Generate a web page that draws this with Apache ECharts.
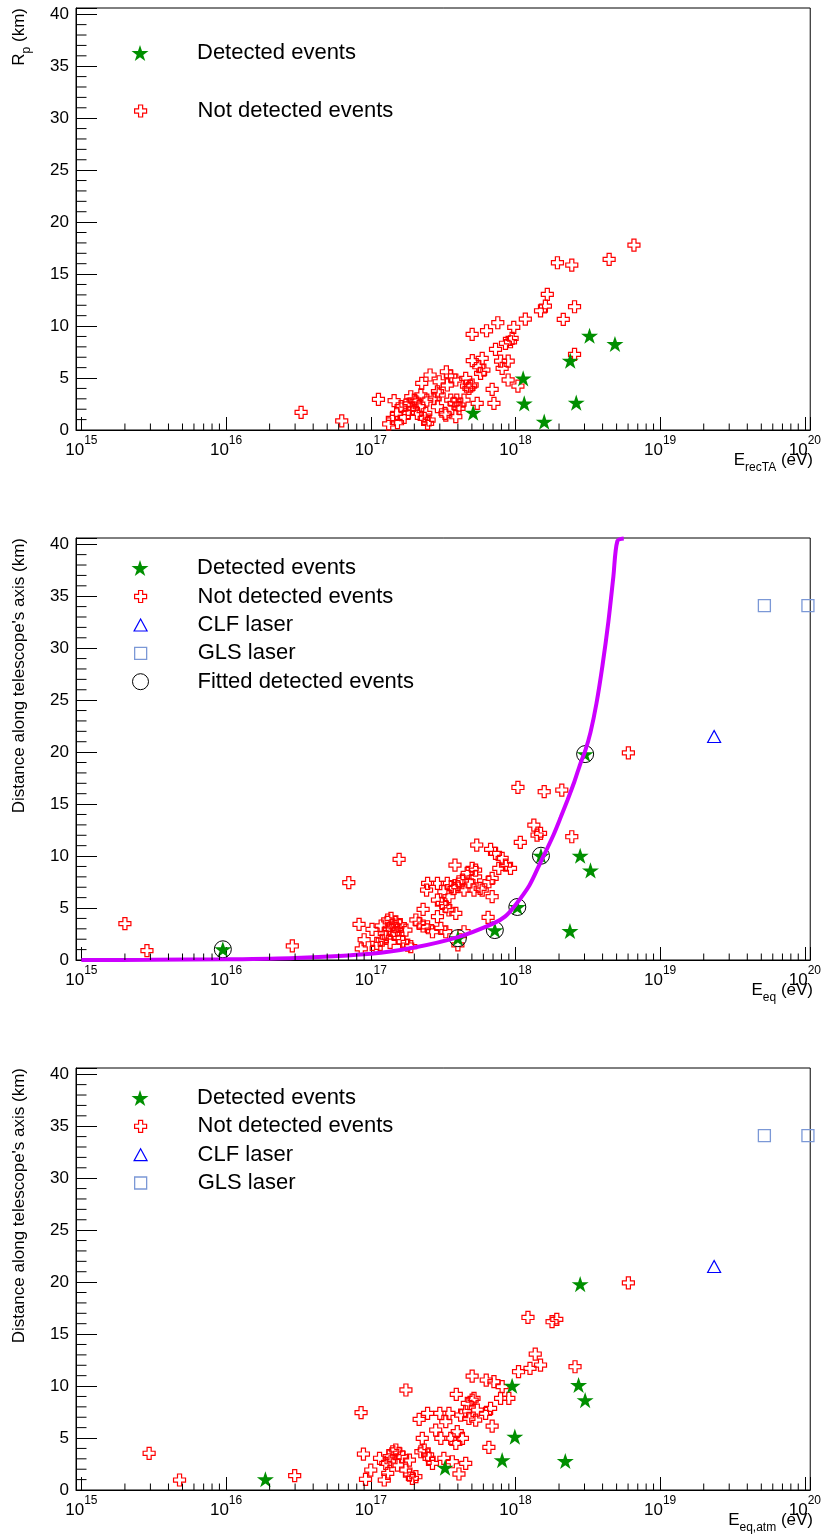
<!DOCTYPE html>
<html><head><meta charset="utf-8">
<script src="https://cdn.jsdelivr.net/npm/echarts@6/dist/echarts.min.js"></script>
<style>html,body{margin:0;padding:0;background:#fff}#c{width:824px;height:1537px}</style>
</head><body><div id="c"></div>
<script>
// ---------------- data ----------------
const legendNames = ['Detected events', 'Not detected events', 'CLF laser', 'GLS laser', 'Fitted detected events'];
const xTitles = [['E', 'recTA', ' (eV)'], ['E', 'eq', ' (eV)'], ['E', 'eq,atm', ' (eV)']];
const yTitles = [['R', 'p', ' (km)'], ["Distance along telescope's axis (km)", '', ''], ["Distance along telescope's axis (km)", '', '']];
const decadeExponents = [15, 16, 17, 18, 19];
const minorMultipliers = [2, 3, 4, 5, 6, 7, 8, 9];
const yMinorTicks = [1,2,3,4,6,7,8,9,11,12,13,14,16,17,18,19,21,22,23,24,26,27,28,29,31,32,33,34,36,37,38,39];

// Panel 1: E_recTA vs R_p
const p1Detected = [[5.1e17,1.67],[1.13e18,4.97],[1.15e18,2.56],[1.58e18,0.8],[2.39e18,6.67],[2.63e18,2.63],[3.25e18,9.07],[4.87e18,8.27]];
const p1NotDetected = [[3.3e16,1.7],[6.3e16,0.87],[1.13e17,2.95],[1.45e17,2.82],[1.51e17,1.6],[1.33e17,0.58],[1.53e17,0.7],[1.7e17,1.22],[1.84e17,2.5],[1.94e17,2.08],[2.05e17,2.72],[1.82e17,1.67],[2.1e17,1.6],[2.22e17,3.37],[2.25e17,4.49],[2.57e17,5.29],[2.44e17,2.88],[2.4e17,1.6],[2.53e17,0.96],[2.74e17,3.05],[2.97e17,3.37],[2.89e17,2.24],[2.97e17,4.64],[3.33e17,5.6],[3.57e17,5.19],[3.38e17,4.33],[3.87e17,4.81],[4.53e17,4.97],[4.9e17,4.23],[4.77e17,4.0],[3.93e17,2.88],[4.07e17,2.4],[3.76e17,2.56],[3.3e17,1.44],[3.87e17,1.28],[5.44e17,2.56],[5.03e17,6.67],[5.89e17,6.89],[5.58e17,6.09],[6.05e17,5.77],[5.74e17,5.45],[5.02e17,9.2],[6.31e17,9.55],[7.55e17,10.32],[9.73e17,9.88],[1.17e18,10.67],[7.28e17,7.76],[8.53e17,8.34],[9.48e17,8.82],[9.24e17,8.49],[7.89e17,6.63],[8.91e17,6.63],[8.09e17,5.93],[8.9e17,4.81],[1.04e18,4.23],[6.9e17,3.91],[7.1e17,2.56],[1.49e18,11.47],[1.61e18,11.92],[1.66e18,13.05],[1.95e18,16.09],[2.45e18,15.87],[4.44e18,16.41],[6.59e18,17.79],[2.14e18,10.64],[2.56e18,11.86],[2.56e18,7.28],[1.75e17,2.4],[2.0e17,2.88],[1.89e17,3.2],[2.16e17,2.24],[2.34e17,1.12],[2.47e17,0.64],[1.62e17,2.24],[1.41e17,1.12],[2.89e17,3.68],[3.26e17,1.6],[4.07e17,2.08],[4.41e17,2.88],[3.57e17,2.88],[4.59e17,4.23],[5.02e17,4.33]];

// Panel 2: E_eq vs distance
const p2Detected = [[9.5e15,1.03],[4.0e17,2.1],[7.2e17,2.88],[1.03e18,5.1],[1.5e18,10.03],[3.03e18,19.81],[2.8e18,10.03],[3.3e18,8.62],[2.38e18,2.79]];
const p2Fitted = [[9.5e15,1.03],[4.0e17,2.1],[7.2e17,2.88],[1.03e18,5.1],[1.5e18,10.03],[3.03e18,19.81]];
const p2NotDetected = [[2.0e15,3.5],[2.84e15,0.9],[2.87e16,1.35],[7.05e16,7.44],[1.57e17,9.68],[8.3e16,3.43],[9.0e16,1.95],[8.6e16,1.07],[1.02e17,2.95],[1.1e17,1.6],[1.09e17,1.12],[1.18e17,3.27],[1.24e17,2.56],[1.31e17,3.85],[1.38e17,4.0],[1.34e17,3.05],[1.42e17,3.37],[1.49e17,3.68],[1.45e17,2.56],[1.53e17,2.88],[1.57e17,2.08],[1.66e17,1.76],[1.75e17,2.88],[1.8e17,1.44],[1.89e17,1.28],[1.28e17,2.2],[1.47e17,3.2],[1.6e17,3.4],[1.36e17,1.7],[1.2e17,1.9],[2.05e17,3.85],[2.16e17,3.53],[2.3e17,3.27],[2.47e17,3.2],[2.3e17,4.87],[2.47e17,7.37],[2.43e17,6.73],[2.89e17,5.77],[3.12e17,5.45],[3.3e17,5.13],[3.47e17,4.81],[3.87e17,4.49],[2.89e17,4.17],[2.89e17,7.37],[3.38e17,7.37],[3.2e17,6.57],[3.47e17,6.09],[3.82e17,9.13],[3.76e17,6.89],[4.3e17,7.69],[4.64e17,8.33],[5.02e17,8.82],[5.3e17,8.65],[5.3e17,8.0],[4.77e17,7.53],[5.17e17,6.73],[5.7e17,6.9],[4.0e17,7.05],[3.6e17,7.05],[4.41e17,6.73],[4.07e17,7.53],[5.89e17,6.73],[6.9e17,6.09],[6.55e17,7.53],[6.9e17,7.85],[5.4e17,11.06],[6.73e17,10.64],[7.28e17,10.26],[8.09e17,9.78],[8.53e17,9.13],[7.67e17,8.82],[9.24e17,8.82],[1.08e18,11.32],[1.34e18,12.98],[1.41e18,12.02],[1.49e18,12.18],[3.05e17,3.05],[3.3e17,2.72],[2.67e17,2.72],[4.41e17,2.72],[4.0e17,1.45],[6.47e17,4.1],[1.04e18,16.6],[1.58e18,16.19],[2.09e18,16.35],[2.45e18,11.86],[6.03e18,19.93]];
const pClf = [[2.36e19,21.5]];
const pGls = [[5.25e19,34.1],[1.05e20,34.1]];
const fitE = [1e15,3e15,1e16,3e16,1e17,2e17,4e17,7e17,8.5e17,1e18,1.25e18,1.5e18,1.64e18,1.84e18,2.05e18,2.29e18,2.56e18,2.81e18,3.03e18,3.3e18,3.63e18,3.99e18,4.39e18,4.75e18,5.06e18,5.6e18];
const fitD = [0.0,0.02,0.07,0.2,0.6,1.2,2.2,3.5,4.2,5.3,7.2,9.5,10.6,12.1,13.7,15.4,17.2,18.9,20.1,21.9,24.7,28.3,32.6,36.9,40.3,40.55];

// Panel 3: E_eq,atm vs distance
const p3Detected = [[1.87e16,1.03],[3.26e17,2.15],[8.09e17,2.88],[9.48e17,10.03],[9.9e17,5.13],[2.21e18,2.79],[2.73e18,10.1],[2.8e18,19.81],[3.03e18,8.65]];
const p3NotDetected = [[2.94e15,3.53],[4.77e15,0.96],[2.98e16,1.38],[8.57e16,7.44],[8.9e16,3.46],[9.2e16,1.03],[1.0e17,1.92],[1.24e17,0.96],[1.15e17,3.05],[1.75e17,9.62],[1.27e17,2.56],[1.34e17,3.2],[1.42e17,3.68],[1.49e17,3.85],[1.57e17,3.53],[1.66e17,3.2],[1.38e17,2.72],[1.53e17,2.4],[1.31e17,1.6],[1.85e17,2.88],[1.75e17,1.92],[1.85e17,1.44],[2.05e17,1.28],[1.94e17,1.12],[2.16e17,6.8],[2.47e17,7.37],[2.27e17,4.97],[2.22e17,3.68],[2.34e17,3.85],[2.47e17,3.37],[2.53e17,3.05],[2.81e17,5.77],[3.0e17,7.37],[3.47e17,7.37],[3.3e17,6.57],[3.05e17,4.97],[3.57e17,4.97],[3.96e17,5.61],[3.87e17,4.49],[4.3e17,4.97],[3.9e17,9.2],[4.18e17,7.21],[4.53e17,7.53],[4.65e17,8.33],[5.02e17,8.65],[5.17e17,8.82],[4.77e17,6.89],[5.31e17,6.73],[5.45e17,7.69],[5.02e17,10.96],[6.28e17,10.58],[7.1e17,10.42],[8.09e17,9.94],[7.89e17,8.82],[9.0e17,8.82],[6.22e17,7.37],[6.73e17,7.85],[6.9e17,6.15],[6.55e17,4.1],[3.2e17,3.05],[3.66e17,2.72],[4.53e17,2.56],[4.07e17,1.54],[2.67e17,2.56],[1.05e18,11.38],[1.26e18,11.7],[1.49e18,12.02],[1.37e18,13.08],[1.22e18,16.6],[1.79e18,16.19],[1.93e18,16.41],[2.58e18,11.86],[6.03e18,19.93]];

// ---------------- chart ----------------
const FONT = 'Liberation Sans, Arial, Helvetica, sans-serif';
const X_MIN = Math.pow(10, 14.963), X_MAX = Math.pow(10, 20.037);
const GRID_TOPS = [8, 538, 1068];
const GRID_LEFT = 76, GRID_W = 737, GRID_H = 422;
const STAR = 'path://M50,0L61.2,34.5L97.6,34.5L68.2,55.9L79.4,90.5L50,69.1L20.6,90.5L31.8,55.9L2.4,34.5L38.8,34.5Z';
const CROSS = 'path://M33,0H67V33H100V67H67V100H33V67H0V33H33Z';
const GREEN = '#008f00', RED = '#ff0000', BLUE = '#0000ff', LBLUE = '#7b98d6', MAGENTA = '#cc00ff';

const xMinorTicks = [];
decadeExponents.forEach(e => minorMultipliers.forEach(m => xMinorTicks.push(m * Math.pow(10, e))));

const grids = GRID_TOPS.map(t => ({left: GRID_LEFT, top: t, width: GRID_W, height: GRID_H, show: true, borderColor: '#000', borderWidth: 1, backgroundColor: 'transparent'}));

const xAxes = GRID_TOPS.map((t, i) => ({
  type: 'log', logBase: 10, gridIndex: i, min: X_MIN, max: X_MAX,
  axisLine: {show: true, lineStyle: {color: '#000', width: 1}},
  axisTick: {show: true, inside: true, length: 13, lineStyle: {color: '#000', width: 1}},
  minorTick: {show: false}, splitLine: {show: false}, minorSplitLine: {show: false},
  axisLabel: {
    margin: 5, color: '#000', fontFamily: FONT,
    formatter: v => { const e = Math.log10(v); const r = Math.round(e); return Math.abs(e - r) > 1e-6 ? '' : '{b|10}{s|' + r + '}'; },
    rich: {b: {fontSize: 17, lineHeight: 24, verticalAlign: 'bottom', fontFamily: FONT, color: '#000'},
           s: {fontSize: 12, lineHeight: 14, verticalAlign: 'top', fontFamily: FONT, color: '#000'}}
  }
}));
const yAxes = GRID_TOPS.map((t, i) => ({
  type: 'value', gridIndex: i, min: 0, max: 40.6, interval: 5,
  axisLine: {show: true, lineStyle: {color: '#000', width: 1}},
  axisTick: {show: true, inside: true, length: 21, lineStyle: {color: '#000', width: 1}},
  splitLine: {show: false},
  axisLabel: {margin: 7, color: '#000', fontSize: 17, fontFamily: FONT,
    formatter: v => (Math.abs(v / 5 - Math.round(v / 5)) < 1e-9 ? String(v) : '')}
}));

function scatter(name, data, gi, symbol, size, itemStyle, z) {
  return {type: 'scatter', name, data, xAxisIndex: gi, yAxisIndex: gi, symbol, symbolSize: size,
    symbolKeepAspect: true, itemStyle, z: z || 2, silent: true, animation: false};
}
const crossStyle = {color: 'transparent', borderColor: RED, borderWidth: 1.2, opacity: 1};
const starStyle = {color: GREEN, borderWidth: 0, opacity: 1};
const triStyle = {color: 'transparent', borderColor: BLUE, borderWidth: 1.2, opacity: 1};
const sqStyle = {color: 'transparent', borderColor: LBLUE, borderWidth: 1.3, opacity: 1};
const circStyle = {color: 'transparent', borderColor: '#000', borderWidth: 1, opacity: 1};
const legendStyles = [starStyle, crossStyle, triStyle, sqStyle, circStyle];
const legendIconSizes = [[17, 17], [12, 12], [13, 12], [12, 12], [16, 16]];

function minorTickSeries(gi) {
  return {type: 'custom', xAxisIndex: gi, yAxisIndex: gi, data: [[1e16, 1]], silent: true, z: 10, clip: false, animation: false,
    encode: {x: 0, y: 1},
    renderItem: (params, api) => {
      const ch = [];
      xMinorTicks.forEach(v => { const p = api.coord([v, 0]); ch.push({type: 'line', shape: {x1: p[0], y1: p[1], x2: p[0], y2: p[1] - 6.5}, style: {stroke: '#000', lineWidth: 1}}); });
      yMinorTicks.forEach(v => { const p = api.coord([X_MIN, v]); ch.push({type: 'line', shape: {x1: p[0], y1: p[1], x2: p[0] + 10.5, y2: p[1]}, style: {stroke: '#000', lineWidth: 1}}); });
      return {type: 'group', children: ch};
    }};
}

const series = [
  scatter(legendNames[1], p1NotDetected, 0, CROSS, 12, crossStyle, 2),
  scatter(legendNames[0], p1Detected, 0, STAR, 17, starStyle, 3),
  scatter(legendNames[1], p2NotDetected, 1, CROSS, 12, crossStyle, 2),
  scatter(legendNames[0], p2Detected, 1, STAR, 17, starStyle, 3),
  scatter(legendNames[2], pClf, 1, 'triangle', [13, 12], triStyle, 3),
  scatter(legendNames[3], pGls, 1, 'rect', 12, sqStyle, 3),
  scatter(legendNames[4], p2Fitted, 1, 'circle', 17, circStyle, 4),
  {type: 'line', name: 'fit', data: fitE.map((e, k) => [e, fitD[k]]), xAxisIndex: 1, yAxisIndex: 1, showSymbol: false, symbol: 'none',
    smooth: 0.3, lineStyle: {color: MAGENTA, width: 4}, z: 5, silent: true, animation: false, clip: true},
  scatter(legendNames[1], p3NotDetected, 2, CROSS, 12, crossStyle, 2),
  scatter(legendNames[0], p3Detected, 2, STAR, 17, starStyle, 3),
  scatter(legendNames[2], pClf, 2, 'triangle', [13, 12], triStyle, 3),
  scatter(legendNames[3], pGls, 2, 'rect', 12, sqStyle, 3),
  minorTickSeries(0), minorTickSeries(1), minorTickSeries(2)
];

// one legend component per entry so each icon keeps its own size
const ICON_CX = 140, TEXT_X = 197;
function legendItem(k, centerY) {
  const w = legendIconSizes[k][0], h = legendIconSizes[k][1];
  return {left: ICON_CX - w / 2, top: centerY - 11, padding: 0, orient: 'vertical', itemWidth: w, itemHeight: h,
    selectedMode: false, data: [{name: legendNames[k], itemStyle: Object.assign({}, legendStyles[k])}],
    textStyle: {fontSize: 22, lineHeight: 22, fontFamily: FONT, color: '#000', padding: [0, 0, 0, TEXT_X - (ICON_CX + w / 2 + 5)]}};
}
const legendRows = [[53, 111], [568, 596.5, 625, 653.3, 681.7], [1098, 1126.3, 1154.7, 1183]];
const legends = [];
legendRows.forEach(rows => rows.forEach((cy, k) => legends.push(legendItem(k, cy))));

const titleRich = {m: {fontSize: 17, lineHeight: 22, verticalAlign: 'top', fontFamily: FONT, color: '#000'},
                   s: {fontSize: 12, lineHeight: 12, verticalAlign: 'bottom', fontFamily: FONT, color: '#000'}};
function richTitle(parts) {
  let s = '{m|' + parts[0] + '}';
  if (parts[1]) s += '{s|' + parts[1] + '}';
  if (parts[2]) s += '{m|' + parts[2] + '}';
  return s;
}
const graphics = [];
GRID_TOPS.forEach((t, i) => {
  graphics.push({type: 'text', x: GRID_LEFT + GRID_W, y: t + GRID_H + 21.5, silent: true,
    style: {text: richTitle(xTitles[i]), rich: titleRich, align: 'right', verticalAlign: 'top'}});
  graphics.push({type: 'text', x: 11, y: t, rotation: Math.PI / 2, silent: true,
    style: {text: richTitle(yTitles[i]), rich: titleRich, align: 'right', verticalAlign: 'top'}});
});

const chart = echarts.init(document.getElementById('c'), null, {renderer: 'canvas'});
chart.setOption({
  backgroundColor: '#fff', animation: false,
  grid: grids, xAxis: xAxes, yAxis: yAxes, legend: legends, series, graphic: graphics
});
</script></body></html>
